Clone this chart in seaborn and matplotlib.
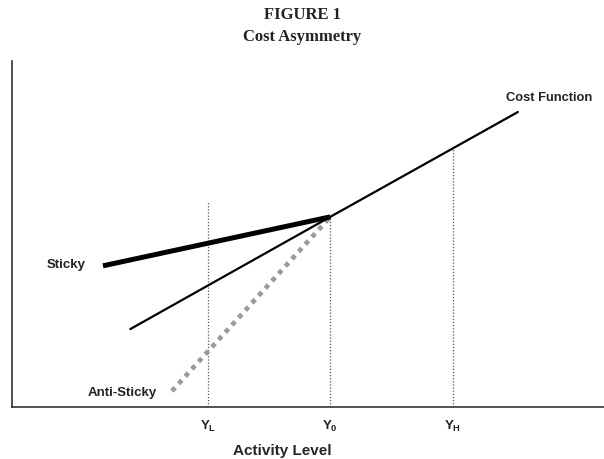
import matplotlib
matplotlib.use('Agg')
import matplotlib.pyplot as plt
import seaborn as sns

# activity level (x) and cost (y) in arbitrary units
cost_x = [2.9, 7.8, 12.4]
cost_y = [1.91, 4.66, 7.23]
sticky_x = [2.23, 7.8]
sticky_y = [3.46, 4.66]
anti_x = [3.92, 7.8]
anti_y = [0.39, 4.66]

level_pos = [4.8, 7.8, 10.8]
level_top = [5.02, 4.66, 6.35]
level_labels = [r"$\mathbf{Y_L}$", r"$\mathbf{Y_0}$", r"$\mathbf{Y_H}$"]

sns.set_style("white")
plt.rcParams['font.family'] = ['Liberation Sans', 'DejaVu Sans']
plt.rcParams['mathtext.fontset'] = 'custom'
plt.rcParams['mathtext.rm'] = 'Liberation Sans'
plt.rcParams['mathtext.bf'] = 'Liberation Sans:bold'

fig = plt.figure(figsize=(6.04, 4.6), dpi=100)
ax = fig.add_axes([12 / 604, 52 / 460, 592 / 604, 346 / 460])

# dotted guide lines at each activity level
for xp, top in zip(level_pos, level_top):
    ax.vlines(xp, 0, top, colors="#555555", linestyles=(0, (1, 1.5)), lw=0.9)

sns.lineplot(x=anti_x, y=anti_y, ax=ax, color="#9a9a9a", lw=3.4,
             linestyle=(0, (1, 1.1)), dash_capstyle="butt")
sns.lineplot(x=cost_x, y=cost_y, ax=ax, color="black", lw=1.6)
sns.lineplot(x=sticky_x, y=sticky_y, ax=ax, color="black", lw=3.6,
             solid_capstyle="butt")

ax.text(0.86, 3.5, "Sticky", fontsize=9.5, fontweight="bold",
        color="#222222", ha="left", va="center")
ax.text(1.86, 0.37, "Anti-Sticky", fontsize=9.5, fontweight="bold",
        color="#222222", ha="left", va="center")
ax.text(12.1, 7.6, "Cost Function", fontsize=9.3, fontweight="bold",
        color="#222222", ha="left", va="center")

ax.set_xlim(0, 14.51)
ax.set_ylim(0, 8.48)
ax.set_xticks(level_pos)
ax.set_xticklabels(level_labels, fontsize=9.5, color="#222222")
ax.set_yticks([])
ax.tick_params(axis="x", length=0, pad=8)
ax.set_xlabel("Activity Level", fontsize=11, fontweight="bold")
ax.xaxis.set_label_coords(0.456, -0.104)

for side in ["top", "right"]:
    ax.spines[side].set_visible(False)
for side in ["left", "bottom"]:
    ax.spines[side].set_color("#333333")
    ax.spines[side].set_linewidth(1.2)

fig.text(0.5, 1 - 15 / 460, "FIGURE 1", ha="center", va="center",
         fontsize=12, fontweight="bold", family="Liberation Serif",
         color="#222222")
fig.text(0.5, 1 - 37 / 460, "Cost Asymmetry", ha="center", va="center",
         fontsize=12, fontweight="bold", family="Liberation Serif",
         color="#222222")

fig.savefig("out.png", dpi=100)
